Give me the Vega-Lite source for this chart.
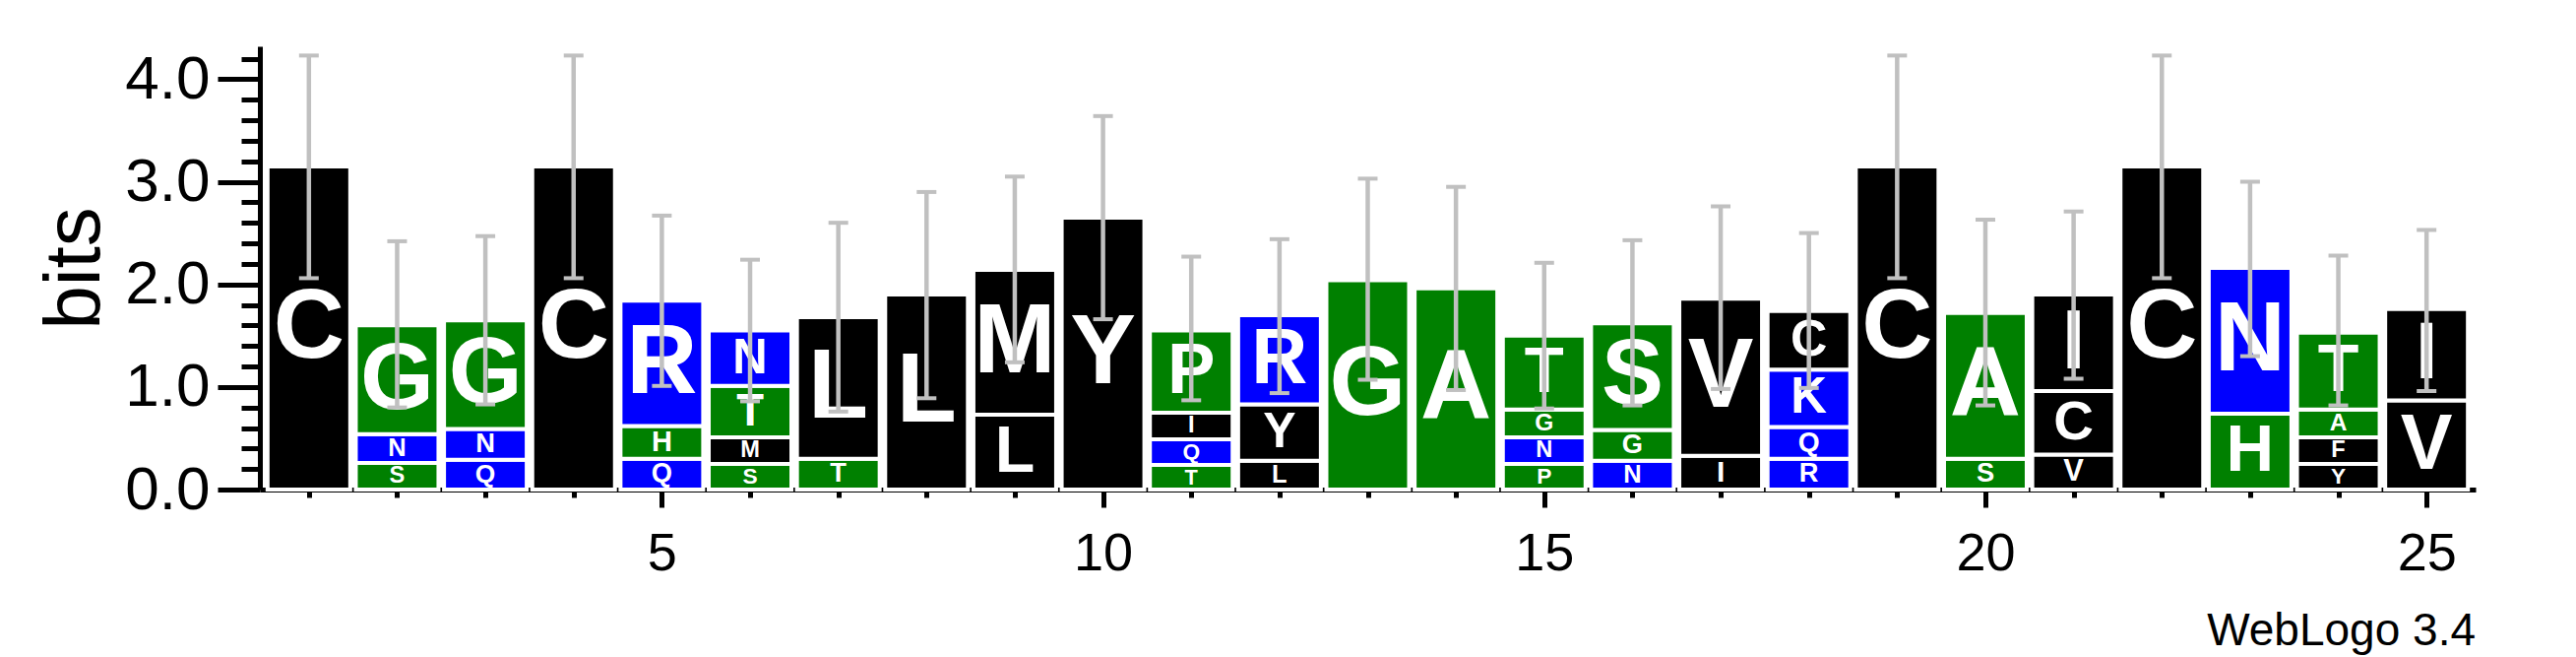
{
  "$schema": "https://vega.github.io/schema/vega-lite/v6.json",
  "width": 2251,
  "height": 450,
  "autosize": {"type": "none"},
  "padding": {"left": 264, "top": 47, "right": 102, "bottom": 170},
  "background": "white",
  "config": {
    "view": {"stroke": null},
    "font": "Liberation Sans",
    "axis": {"labelFont": "Liberation Sans", "titleFont": "Liberation Sans", "grid": false, "labelColor": "black", "tickColor": "black", "domainColor": "black", "titleColor": "black"}
  },
  "title": {"text": "WebLogo 3.4", "orient": "bottom", "anchor": "end", "fontSize": 46, "fontWeight": "normal", "font": "Liberation Sans", "color": "black", "offset": 30},
  "datasets": {
    "letters": [
      {"pos": 1, "letter": "C", "bits": 3.15},
      {"pos": 2, "letter": "S", "bits": 0.26}, {"pos": 2, "letter": "N", "bits": 0.28}, {"pos": 2, "letter": "G", "bits": 1.06},
      {"pos": 3, "letter": "Q", "bits": 0.29}, {"pos": 3, "letter": "N", "bits": 0.30}, {"pos": 3, "letter": "G", "bits": 1.06},
      {"pos": 4, "letter": "C", "bits": 3.15},
      {"pos": 5, "letter": "Q", "bits": 0.30}, {"pos": 5, "letter": "H", "bits": 0.32}, {"pos": 5, "letter": "R", "bits": 1.22},
      {"pos": 6, "letter": "S", "bits": 0.25}, {"pos": 6, "letter": "M", "bits": 0.26}, {"pos": 6, "letter": "T", "bits": 0.50}, {"pos": 6, "letter": "N", "bits": 0.54},
      {"pos": 7, "letter": "T", "bits": 0.30}, {"pos": 7, "letter": "L", "bits": 1.38},
      {"pos": 8, "letter": "L", "bits": 1.90},
      {"pos": 9, "letter": "L", "bits": 0.73}, {"pos": 9, "letter": "M", "bits": 1.41},
      {"pos": 10, "letter": "Y", "bits": 2.65},
      {"pos": 11, "letter": "T", "bits": 0.24}, {"pos": 11, "letter": "Q", "bits": 0.25}, {"pos": 11, "letter": "I", "bits": 0.26}, {"pos": 11, "letter": "P", "bits": 0.80},
      {"pos": 12, "letter": "L", "bits": 0.28}, {"pos": 12, "letter": "Y", "bits": 0.55}, {"pos": 12, "letter": "R", "bits": 0.87},
      {"pos": 13, "letter": "G", "bits": 2.04},
      {"pos": 14, "letter": "A", "bits": 1.96},
      {"pos": 15, "letter": "P", "bits": 0.25}, {"pos": 15, "letter": "N", "bits": 0.26}, {"pos": 15, "letter": "G", "bits": 0.27}, {"pos": 15, "letter": "T", "bits": 0.72},
      {"pos": 16, "letter": "N", "bits": 0.28}, {"pos": 16, "letter": "G", "bits": 0.30}, {"pos": 16, "letter": "S", "bits": 1.04},
      {"pos": 17, "letter": "I", "bits": 0.33}, {"pos": 17, "letter": "V", "bits": 1.53},
      {"pos": 18, "letter": "R", "bits": 0.30}, {"pos": 18, "letter": "Q", "bits": 0.31}, {"pos": 18, "letter": "K", "bits": 0.56}, {"pos": 18, "letter": "C", "bits": 0.57},
      {"pos": 19, "letter": "C", "bits": 3.15},
      {"pos": 20, "letter": "S", "bits": 0.30}, {"pos": 20, "letter": "A", "bits": 1.42},
      {"pos": 21, "letter": "V", "bits": 0.34}, {"pos": 21, "letter": "C", "bits": 0.62}, {"pos": 21, "letter": "I", "bits": 0.94},
      {"pos": 22, "letter": "C", "bits": 3.15},
      {"pos": 23, "letter": "H", "bits": 0.74}, {"pos": 23, "letter": "N", "bits": 1.42},
      {"pos": 24, "letter": "Y", "bits": 0.25}, {"pos": 24, "letter": "F", "bits": 0.26}, {"pos": 24, "letter": "A", "bits": 0.27}, {"pos": 24, "letter": "T", "bits": 0.75},
      {"pos": 25, "letter": "V", "bits": 0.87}, {"pos": 25, "letter": "I", "bits": 0.89}
    ],
    "errors": [
      {"pos": 1, "lo": 2.06, "hi": 4.23}, {"pos": 2, "lo": 0.80, "hi": 2.42}, {"pos": 3, "lo": 0.83, "hi": 2.47},
      {"pos": 4, "lo": 2.06, "hi": 4.23}, {"pos": 5, "lo": 1.01, "hi": 2.67}, {"pos": 6, "lo": 0.86, "hi": 2.24},
      {"pos": 7, "lo": 0.76, "hi": 2.60}, {"pos": 8, "lo": 0.89, "hi": 2.90}, {"pos": 9, "lo": 1.24, "hi": 3.05},
      {"pos": 10, "lo": 1.66, "hi": 3.64}, {"pos": 11, "lo": 0.87, "hi": 2.27}, {"pos": 12, "lo": 0.94, "hi": 2.44},
      {"pos": 13, "lo": 1.07, "hi": 3.03}, {"pos": 14, "lo": 0.97, "hi": 2.95}, {"pos": 15, "lo": 0.79, "hi": 2.21},
      {"pos": 16, "lo": 0.82, "hi": 2.43}, {"pos": 17, "lo": 0.98, "hi": 2.76}, {"pos": 18, "lo": 0.99, "hi": 2.50},
      {"pos": 19, "lo": 2.06, "hi": 4.23}, {"pos": 20, "lo": 0.82, "hi": 2.63}, {"pos": 21, "lo": 1.08, "hi": 2.71},
      {"pos": 22, "lo": 2.06, "hi": 4.23}, {"pos": 23, "lo": 1.30, "hi": 3.00}, {"pos": 24, "lo": 0.82, "hi": 2.28},
      {"pos": 25, "lo": 0.96, "hi": 2.53}
    ]
  },
  "layer": [
    {
      "data": {"name": "letters"},
      "mark": {"type": "bar", "size": 84, "stroke": "white", "strokeWidth": 4},
      "encoding": {
        "x": {"field": "pos", "type": "quantitative", "scale": {"domain": [0.5, 25.5], "nice": false, "zero": false},
              "axis": {"values": [5, 10, 15, 20, 25], "tickSize": 18, "tickWidth": 5, "domainWidth": 5, "labelFontSize": 54, "labelPadding": 20, "title": null, "orient": "bottom"}},
        "y": {"field": "bits", "type": "quantitative", "stack": "zero", "scale": {"domain": [0, 4.32], "nice": false},
              "axis": {"values": [0, 1, 2, 3, 4], "format": ".1f", "tickSize": 43, "tickWidth": 5, "domainWidth": 5, "labelFontSize": 62, "labelPadding": 8,
                       "title": "bits", "titleFontSize": 80, "titleFontWeight": "normal", "titleX": -164, "titleY": 225, "titleBaseline": "alphabetic", "orient": "left"}},
        "order": {"field": "bits", "sort": "ascending"},
        "color": {"field": "letter", "type": "nominal", "legend": null,
                  "scale": {"domain": ["A", "C", "F", "G", "H", "I", "K", "L", "M", "N", "P", "Q", "R", "S", "T", "V", "Y"],
                            "range": ["#008000", "#000000", "#000000", "#008000", "#008000", "#000000", "#0000FF", "#000000", "#000000", "#0000FF", "#008000", "#0000FF", "#0000FF", "#008000", "#008000", "#000000", "#000000"]}}
      }
    },
    {
      "data": {"name": "letters"},
      "transform": [
        {"stack": "bits", "groupby": ["pos"], "sort": [{"field": "bits", "order": "ascending"}], "as": ["b0", "b1"]},
        {"fold": ["b0", "b1"], "as": ["edge", "v"]}
      ],
      "mark": {"type": "text", "font": "Liberation Sans", "fontWeight": "bold", "fill": "white", "baseline": "middle", "align": "center"},
      "encoding": {
        "x": {"field": "pos", "type": "quantitative", "scale": {"domain": [0.5, 25.5], "nice": false, "zero": false}, "axis": null},
        "y": {"aggregate": "mean", "field": "v", "type": "quantitative", "stack": null, "scale": {"domain": [0, 4.32], "nice": false}, "axis": null},
        "text": {"field": "letter", "type": "nominal"},
        "size": {"aggregate": "max", "field": "bits", "type": "quantitative", "legend": null, "scale": {"domain": [0, 1.1], "range": [0, 100], "clamp": true, "zero": true}}
      }
    },
    {
      "data": {"name": "errors"},
      "mark": {"type": "rule", "color": "#C0C0C0", "strokeWidth": 4.5},
      "encoding": {
        "x": {"field": "pos", "type": "quantitative", "scale": {"domain": [0.5, 25.5], "nice": false, "zero": false},
              "axis": {"values": [1,2,3,4,5,6,7,8,9,10,11,12,13,14,15,16,17,18,19,20,21,22,23,24,25], "tickSize": 8, "tickWidth": 5, "labels": false, "domain": false, "title": null, "orient": "bottom"}},
        "y": {"field": "lo", "type": "quantitative", "scale": {"domain": [0, 4.32], "nice": false},
              "axis": {"values": [0.2,0.4,0.6,0.8,1.2,1.4,1.6,1.8,2.2,2.4,2.6,2.8,3.2,3.4,3.6,3.8,4.2], "tickSize": 19, "tickWidth": 5, "labels": false, "domain": false, "title": null, "orient": "left"}},
        "y2": {"field": "hi"}
      }
    },
    {
      "data": {"name": "errors"},
      "mark": {"type": "tick", "orient": "horizontal", "color": "#C0C0C0", "size": 20, "thickness": 4, "opacity": 1},
      "encoding": {
        "x": {"field": "pos", "type": "quantitative", "scale": {"domain": [0.5, 25.5], "nice": false, "zero": false}, "axis": null},
        "y": {"field": "lo", "type": "quantitative", "scale": {"domain": [0, 4.32], "nice": false}, "axis": null}
      }
    },
    {
      "data": {"name": "errors"},
      "mark": {"type": "tick", "orient": "horizontal", "color": "#C0C0C0", "size": 20, "thickness": 4, "opacity": 1},
      "encoding": {
        "x": {"field": "pos", "type": "quantitative", "scale": {"domain": [0.5, 25.5], "nice": false, "zero": false}, "axis": null},
        "y": {"field": "hi", "type": "quantitative", "scale": {"domain": [0, 4.32], "nice": false}, "axis": null}
      }
    }
  ],
  "resolve": {"axis": {"x": "independent", "y": "independent"}}
}
